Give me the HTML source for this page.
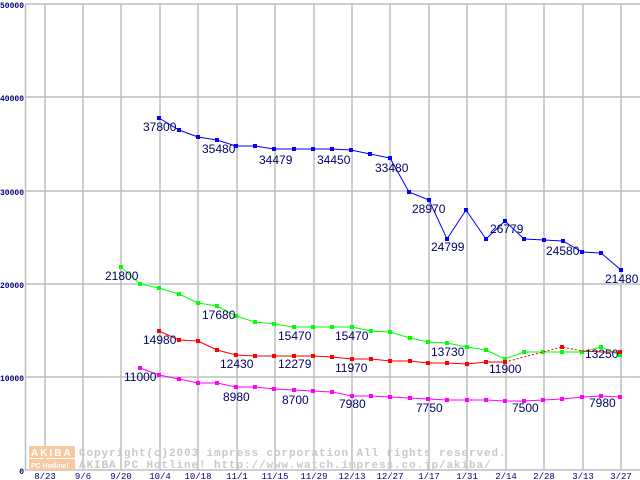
<!DOCTYPE html>
<html><head><meta charset="utf-8"><style>
html,body{margin:0;padding:0;background:#fff;width:640px;height:480px;overflow:hidden}
svg{display:block}
.yl{font:bold 8px "Liberation Mono",monospace;fill:#000080;text-anchor:end}
.xl{font:9px "Liberation Mono",monospace;fill:#000080;text-anchor:middle}
.dl{font:12px "Liberation Sans",sans-serif;fill:#000066}
.wm{font:bold 11px "Liberation Mono",monospace;fill:#c8c8c8;letter-spacing:0.9px}
</style></head><body>
<svg width="640" height="480" viewBox="0 0 640 480" xmlns="http://www.w3.org/2000/svg">
<g stroke="#bdbdbd" stroke-width="1.5" fill="none">
<line x1="25" y1="4" x2="640" y2="4"/><line x1="25" y1="97" x2="640" y2="97"/>
<line x1="25" y1="191" x2="640" y2="191"/><line x1="25" y1="284" x2="640" y2="284"/>
<line x1="25" y1="377" x2="640" y2="377"/><line x1="25" y1="470" x2="640" y2="470"/>
<line x1="25.5" y1="4" x2="25.5" y2="470"/>
<line x1="45" y1="4" x2="45" y2="470"/><line x1="83" y1="4" x2="83" y2="470"/><line x1="121" y1="4" x2="121" y2="470"/><line x1="160" y1="4" x2="160" y2="470"/><line x1="198" y1="4" x2="198" y2="470"/><line x1="237" y1="4" x2="237" y2="470"/><line x1="275" y1="4" x2="275" y2="470"/><line x1="314" y1="4" x2="314" y2="470"/><line x1="352" y1="4" x2="352" y2="470"/><line x1="390" y1="4" x2="390" y2="470"/><line x1="429" y1="4" x2="429" y2="470"/><line x1="467" y1="4" x2="467" y2="470"/><line x1="506" y1="4" x2="506" y2="470"/><line x1="544" y1="4" x2="544" y2="470"/><line x1="583" y1="4" x2="583" y2="470"/><line x1="621" y1="4" x2="621" y2="470"/>
</g>
<text class="yl" x="24" y="8" textLength="24" lengthAdjust="spacingAndGlyphs">50000</text><text class="yl" x="24" y="101" textLength="24" lengthAdjust="spacingAndGlyphs">40000</text><text class="yl" x="24" y="195" textLength="24" lengthAdjust="spacingAndGlyphs">30000</text><text class="yl" x="24" y="288" textLength="24" lengthAdjust="spacingAndGlyphs">20000</text><text class="yl" x="24" y="381" textLength="24" lengthAdjust="spacingAndGlyphs">10000</text><text class="yl" x="24" y="474">0</text>
<g class="xl">
<text x="45" y="479">8/23</text><text x="83" y="479">9/6</text><text x="121" y="479">9/20</text><text x="160" y="479">10/4</text><text x="198" y="479">10/18</text><text x="237" y="479">11/1</text><text x="275" y="479">11/15</text><text x="314" y="479">11/29</text><text x="352" y="479">12/13</text><text x="390" y="479">12/27</text><text x="429" y="479">1/17</text><text x="467" y="479">1/31</text><text x="506" y="479">2/14</text><text x="544" y="479">2/28</text><text x="583" y="479">3/13</text><text x="621" y="479">3/27</text>
</g>
<rect x="29" y="446" width="46" height="12" fill="#f8c8a0"/>
<rect x="29" y="459" width="46" height="11" fill="#f8c8a0"/>
<text x="31" y="456" style="font:bold 10px 'Liberation Sans',sans-serif;fill:#fff;letter-spacing:2px">AKIBA</text>
<text x="31" y="468" style="font:bold 7px 'Liberation Sans',sans-serif;fill:#fff">PC Hotline!</text>
<text class="wm" x="79" y="456">Copyright(c)2003 impress corporation All rights reserved.</text>
<text class="wm" x="79" y="468">AKIBA PC Hotline! http://www.watch.impress.co.jp/akiba/</text>
<polyline fill="none" stroke="#0000ff" stroke-width="1" points="159,118 179,130 198,137 217,140 236,146 255,146 274,149 294,149 313,149 332,149 351,150 370,154 390,158 409,192 429,200 447,239 466,210 486,239 505,221 524,239 544,240 563,241 582,252 601,253 621,270"/>
<g fill="#0000ff"><rect x="157" y="116" width="4" height="4"/><rect x="177" y="128" width="4" height="4"/><rect x="196" y="135" width="4" height="4"/><rect x="215" y="138" width="4" height="4"/><rect x="234" y="144" width="4" height="4"/><rect x="253" y="144" width="4" height="4"/><rect x="272" y="147" width="4" height="4"/><rect x="292" y="147" width="4" height="4"/><rect x="311" y="147" width="4" height="4"/><rect x="330" y="147" width="4" height="4"/><rect x="349" y="148" width="4" height="4"/><rect x="368" y="152" width="4" height="4"/><rect x="388" y="156" width="4" height="4"/><rect x="407" y="190" width="4" height="4"/><rect x="427" y="198" width="4" height="4"/><rect x="445" y="237" width="4" height="4"/><rect x="464" y="208" width="4" height="4"/><rect x="484" y="237" width="4" height="4"/><rect x="503" y="219" width="4" height="4"/><rect x="522" y="237" width="4" height="4"/><rect x="542" y="238" width="4" height="4"/><rect x="561" y="239" width="4" height="4"/><rect x="580" y="250" width="4" height="4"/><rect x="599" y="251" width="4" height="4"/><rect x="619" y="268" width="4" height="4"/></g>
<polyline fill="none" stroke="#00ff00" stroke-width="1" points="121,267 140,284 159,288 179,294 198,303 217,306 236,316 255,322 274,324 294,327 313,327 332,327 352,327 371,331 390,332 410,338 428,342 447,343 467,347 486,350 505,359 524,352 543,352 562,352 582,352 601,347 620,355"/>
<g fill="#00ff00"><rect x="119" y="265" width="4" height="4"/><rect x="138" y="282" width="4" height="4"/><rect x="157" y="286" width="4" height="4"/><rect x="177" y="292" width="4" height="4"/><rect x="196" y="301" width="4" height="4"/><rect x="215" y="304" width="4" height="4"/><rect x="234" y="314" width="4" height="4"/><rect x="253" y="320" width="4" height="4"/><rect x="272" y="322" width="4" height="4"/><rect x="292" y="325" width="4" height="4"/><rect x="311" y="325" width="4" height="4"/><rect x="330" y="325" width="4" height="4"/><rect x="350" y="325" width="4" height="4"/><rect x="369" y="329" width="4" height="4"/><rect x="388" y="330" width="4" height="4"/><rect x="408" y="336" width="4" height="4"/><rect x="426" y="340" width="4" height="4"/><rect x="445" y="341" width="4" height="4"/><rect x="465" y="345" width="4" height="4"/><rect x="484" y="348" width="4" height="4"/><rect x="503" y="357" width="4" height="4"/><rect x="522" y="350" width="4" height="4"/><rect x="541" y="350" width="4" height="4"/><rect x="560" y="350" width="4" height="4"/><rect x="580" y="350" width="4" height="4"/><rect x="599" y="345" width="4" height="4"/><rect x="618" y="353" width="4" height="4"/></g>
<polyline fill="none" stroke="#ff0000" stroke-width="1" points="159,331 179,340 198,341 217,350 236,355 255,356 274,356 294,356 313,356 332,357 352,359 371,359 390,361 410,361 428,363 447,363 467,364 486,362 505,362"/>
<polyline fill="none" stroke="#ff0000" stroke-width="1" stroke-dasharray="2,2" points="505,362 524,357 543,352 562,347 582,351"/>
<polyline fill="none" stroke="#ff0000" stroke-width="1" points="582,351 601,352 620,352"/>
<g fill="#ff0000"><rect x="157" y="329" width="4" height="4"/><rect x="177" y="338" width="4" height="4"/><rect x="196" y="339" width="4" height="4"/><rect x="215" y="348" width="4" height="4"/><rect x="234" y="353" width="4" height="4"/><rect x="253" y="354" width="4" height="4"/><rect x="272" y="354" width="4" height="4"/><rect x="292" y="354" width="4" height="4"/><rect x="311" y="354" width="4" height="4"/><rect x="330" y="355" width="4" height="4"/><rect x="350" y="357" width="4" height="4"/><rect x="369" y="357" width="4" height="4"/><rect x="388" y="359" width="4" height="4"/><rect x="408" y="359" width="4" height="4"/><rect x="426" y="361" width="4" height="4"/><rect x="445" y="361" width="4" height="4"/><rect x="465" y="362" width="4" height="4"/><rect x="484" y="360" width="4" height="4"/><rect x="503" y="360" width="4" height="4"/><rect x="560" y="345" width="4" height="4"/><rect x="618" y="350" width="4" height="4"/></g>
<polyline fill="none" stroke="#ff00ff" stroke-width="1" points="140,368 159,375 179,379 198,383 217,383 236,387 255,387 274,389 294,390 313,391 332,392 352,396 371,396 390,397 410,398 428,399 447,400 467,400 486,400 505,401 524,401 543,400 562,399 582,397 601,396 620,397"/>
<g fill="#ff00ff"><rect x="138" y="366" width="4" height="4"/><rect x="157" y="373" width="4" height="4"/><rect x="177" y="377" width="4" height="4"/><rect x="196" y="381" width="4" height="4"/><rect x="215" y="381" width="4" height="4"/><rect x="234" y="385" width="4" height="4"/><rect x="253" y="385" width="4" height="4"/><rect x="272" y="387" width="4" height="4"/><rect x="292" y="388" width="4" height="4"/><rect x="311" y="389" width="4" height="4"/><rect x="330" y="390" width="4" height="4"/><rect x="350" y="394" width="4" height="4"/><rect x="369" y="394" width="4" height="4"/><rect x="388" y="395" width="4" height="4"/><rect x="408" y="396" width="4" height="4"/><rect x="426" y="397" width="4" height="4"/><rect x="445" y="398" width="4" height="4"/><rect x="465" y="398" width="4" height="4"/><rect x="484" y="398" width="4" height="4"/><rect x="503" y="399" width="4" height="4"/><rect x="522" y="399" width="4" height="4"/><rect x="541" y="398" width="4" height="4"/><rect x="560" y="397" width="4" height="4"/><rect x="580" y="395" width="4" height="4"/><rect x="599" y="394" width="4" height="4"/><rect x="618" y="395" width="4" height="4"/></g>
<g class="dl">
<text x="143" y="131">37800</text><text x="202" y="153">35480</text><text x="259" y="164">34479</text><text x="317" y="164">34450</text><text x="375" y="172">33480</text>
<text x="412" y="213">28970</text><text x="431" y="251">24799</text><text x="490" y="233">26779</text><text x="546" y="255">24580</text><text x="605" y="283">21480</text>
<text x="105" y="280">21800</text><text x="202" y="319">17680</text><text x="278" y="340">15470</text><text x="335" y="340">15470</text><text x="431" y="356">13730</text><text x="489" y="373">11900</text><text x="585" y="358">13250</text>
<text x="143" y="344">14980</text><text x="220" y="368">12430</text><text x="278" y="368">12279</text><text x="335" y="372">11970</text>
<text x="124" y="381">11000</text><text x="223" y="401">8980</text><text x="282" y="404">8700</text><text x="339" y="408">7980</text><text x="416" y="412">7750</text><text x="512" y="412">7500</text><text x="589" y="407">7980</text>
</g>
</svg>
</body></html>
